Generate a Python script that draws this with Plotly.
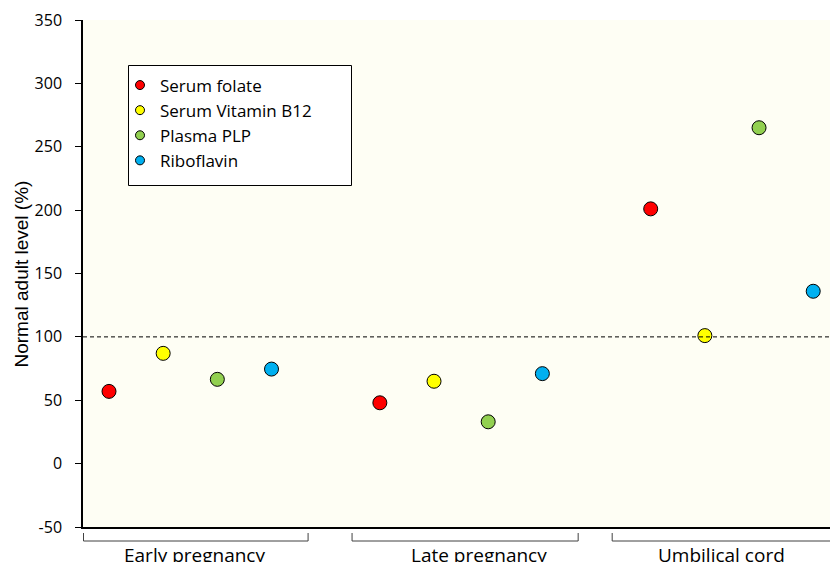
import plotly.graph_objects as go

groups = ["Early pregnancy", "Late pregnancy", "Umbilical cord"]
series_names = ["Serum folate", "Serum Vitamin B12", "Plasma PLP", "Riboflavin"]
serum_folate = [57, 48, 201]
serum_b12 = [87, 65, 101]
plasma_plp = [66.5, 33, 265]
riboflavin = [74.6, 71, 136]
y_ticks = [-50, 0, 50, 100, 150, 200, 250, 300, 350]
y_tick_labels = ["-50", "0", "50", "100", "150", "200", "250", "300", "350"]
reference_level = 100

colors = ["#FF0000", "#FFFF00", "#92D050", "#00B0F0"]
all_series = [serum_folate, serum_b12, plasma_plp, riboflavin]

fig = go.Figure()
for si, (name, vals, col) in enumerate(zip(series_names, all_series, colors)):
    xs = [gi * 5 + si for gi in range(len(groups))]
    fig.add_trace(go.Scatter(
        x=xs, y=vals, mode="markers", name=name, showlegend=False,
        marker=dict(size=14, color=col, line=dict(color="black", width=1)),
    ))
    # legend entry with smaller marker
    fig.add_trace(go.Scatter(
        x=[None], y=[None], mode="markers", name=name,
        marker=dict(size=9, color=col, line=dict(color="black", width=1)),
    ))

W, H = 830, 562
L, R, T, B = 83, 0, 20, 35
pw, ph = W - L - R, H - T - B

def px_x(p):
    return (p - L) / pw

def px_y(p):
    return (H - B - p) / ph

shapes = []
# dashed reference line
shapes.append(dict(type="line", xref="paper", yref="y", x0=0, x1=1,
                   y0=reference_level, y1=reference_level,
                   line=dict(color="black", width=1, dash="4px,3px")))
# legend box
shapes.append(dict(type="rect", xref="paper", yref="paper",
                   x0=px_x(128.5), x1=px_x(351.5), y0=px_y(185.5), y1=px_y(65.5),
                   fillcolor="white", line=dict(color="black", width=1), layer="above"))
# group brackets
bracket_spans = [(-0.471, 3.675), (4.487, 8.661), (9.289, 13.8)]
label_pos = [1.57, 6.83, 11.3]
yt, yb = px_y(533), px_y(541)
for (a, b) in bracket_spans:
    shapes.append(dict(type="path", xref="x", yref="paper",
                       path=f"M {a},{yt} L {a},{yb} L {b},{yb} L {b},{yt}",
                       line=dict(color="#404040", width=1)))

annotations = []
for g, lp in zip(groups, label_pos):
    annotations.append(dict(text=g, x=lp, xref="x", y=px_y(555), yref="paper",
                            yanchor="middle", xanchor="center", showarrow=False,
                            font=dict(family="Open Sans", size=19, color="black")))
annotations.append(dict(text="Normal adult level (%)", textangle=-90,
                        x=px_x(20.5), y=px_y(274), xref="paper", yref="paper",
                        xanchor="center", yanchor="middle", showarrow=False,
                        font=dict(family="Liberation Sans", size=19, color="black")))

fig.update_layout(
    width=W, height=H,
    margin=dict(l=L, r=R, t=T, b=B),
    paper_bgcolor="white",
    plot_bgcolor="#FEFEF4",
    font=dict(family="Open Sans", size=16, color="black"),
    shapes=shapes,
    annotations=annotations,
    legend=dict(x=px_x(120), y=px_y(67.5), xanchor="left", yanchor="top",
                bgcolor="rgba(0,0,0,0)", borderwidth=0,
                font=dict(size=17, color="black")),
)
fig.update_xaxes(range=[-0.48, 13.31], showticklabels=False, ticks="",
                 showgrid=False, zeroline=False, showline=True,
                 linecolor="black", linewidth=1.5)
fig.update_yaxes(range=[-50, 350], tickvals=y_ticks, ticktext=y_tick_labels,
                 ticks="outside", ticklen=6,
                 tickcolor="black", showgrid=False, zeroline=False, showline=True,
                 linecolor="black", linewidth=1.5, ticklabelstandoff=10,
                 tickfont=dict(size=16, color="black"))

fig.write_html("out.html", config={"displayModeBar": False},
               post_script="document.body.style.margin='0px';document.body.style.padding='0px';")
